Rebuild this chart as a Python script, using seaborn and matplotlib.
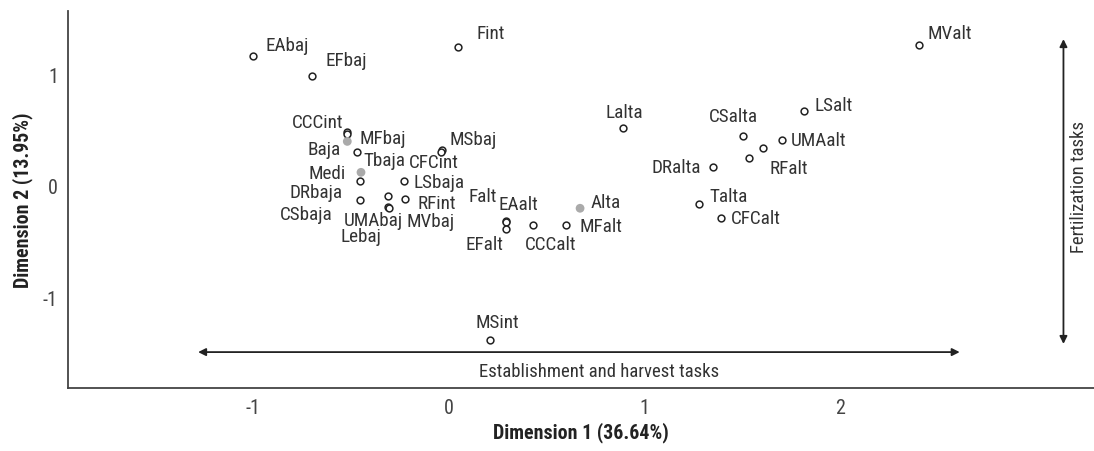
import pandas as pd
import seaborn as sns
import numpy as np
from matplotlib import pyplot as plt

sns.set_style("white")
plt.rcParams["font.family"] = ["Roboto Condensed", "Liberation Sans Narrow", "Roboto", "DejaVu Sans"]

# category points (active ones drawn as open circles)
names = ["EAbaj", "EFbaj", "Fint", "MValt", "CCCint", "MFbaj", "Tbaja", "MSbaj",
         "CFCint", "LSbaja", "DRbaja", "CSbaja", "MVbaj", "UMAbaj", "Lebaj", "RFint",
         "EAalt", "Falt", "EFalt", "CCCalt", "MFalt", "MSint",
         "Lalta", "CSalta", "LSalt", "UMAalt", "RFalt", "", "DRalta", "Talta", "CFCalt"]
dim1 = [-1.00, -0.70, 0.05, 2.40, -0.52, -0.517, -0.47, -0.034,
        -0.039, -0.228, -0.453, -0.453, -0.308, -0.308, -0.305, -0.225,
        0.293, 0.293, 0.293, 0.429, 0.599, 0.211,
        0.889, 1.503, 1.813, 1.704, 1.607, 1.532, 1.348, 1.280, 1.389]
dim2 = [1.164, 0.982, 1.242, 1.260, 0.478, 0.467, 0.299, 0.321,
        0.302, 0.039, 0.042, -0.125, -0.095, -0.193, -0.204, -0.119,
        -0.320, -0.329, -0.392, -0.352, -0.352, -1.386,
        0.516, 0.442, 0.666, 0.409, 0.335, 0.245, 0.170, -0.161, -0.286]

# supplementary levels (grey dots)
sup_names = ["Baja", "Medi", "Alta"]
sup_dim1 = [-0.518, -0.448, 0.671]
sup_dim2 = [0.397, 0.120, -0.202]

# where each label sits (data units), repelled away from its point
lab_pos = {
    "EAbaj": (-0.824, 1.260), "EFbaj": (-0.524, 1.128), "Fint": (0.214, 1.367),
    "MValt": (2.560, 1.367), "CCCint": (-0.668, 0.570), "MFbaj": (-0.336, 0.427),
    "Baja": (-0.637, 0.329), "Tbaja": (-0.330, 0.233), "MSbaj": (0.123, 0.418),
    "CFCint": (-0.075, 0.212), "Medi": (-0.623, 0.111), "LSbaja": (-0.050, 0.033),
    "DRbaja": (-0.679, -0.054), "RFint": (-0.061, -0.155), "CSbaja": (-0.730, -0.253),
    "UMAbaj": (-0.385, -0.307), "MVbaj": (-0.092, -0.313), "Lebaj": (-0.448, -0.453),
    "Falt": (0.174, -0.090), "EAalt": (0.355, -0.164), "EFalt": (0.185, -0.522),
    "CCCalt": (0.521, -0.522), "MFalt": (0.778, -0.358), "Alta": (0.803, -0.149),
    "Lalta": (0.897, 0.657), "CSalta": (1.454, 0.621), "LSalt": (1.968, 0.725),
    "UMAalt": (1.888, 0.409), "RFalt": (1.738, 0.158), "DRalta": (1.164, 0.165),
    "Talta": (1.432, -0.090), "CFCalt": (1.569, -0.292), "MSint": (0.247, -1.220),
}

df = pd.DataFrame({"name": names, "d1": dim1, "d2": dim2, "kind": "active"})
sup = pd.DataFrame({"name": sup_names, "d1": sup_dim1, "d2": sup_dim2, "kind": "sup"})

fig = plt.figure(figsize=(10.94, 4.52), dpi=100)
ax = fig.add_axes([0.0619, 0.1383, 0.9381, 0.8357])

sns.scatterplot(data=df, x="d1", y="d2", ax=ax, s=24, facecolor="white",
                edgecolor="#222222", linewidth=1.1, legend=False, zorder=3)
sns.scatterplot(data=sup, x="d1", y="d2", ax=ax, s=40, color="#aaaaaa",
                edgecolor="none", legend=False, zorder=4)

txt = "#333333"
for name, (lx, ly) in lab_pos.items():
    ax.text(lx, ly, name, ha="center", va="center", fontsize=13.8, color=txt)

# direction arrows
ax.annotate("", xy=(-1.28, -1.49), xytext=(2.61, -1.49),
            arrowprops=dict(arrowstyle="<|-|>", color="#222222", lw=1.3,
                            mutation_scale=11, shrinkA=0, shrinkB=0))
ax.annotate("", xy=(3.14, 1.313), xytext=(3.14, -1.417),
            arrowprops=dict(arrowstyle="<|-|>", color="#222222", lw=1.3,
                            mutation_scale=11, shrinkA=0, shrinkB=0))
ax.text(0.77, -1.655, "Establishment and harvest tasks", ha="center", va="center",
        fontsize=13.5, color=txt)
ax.text(3.22, 0.0, "Fertilization tasks", ha="center", va="center", rotation=90,
        fontsize=13.5, color=txt)

ax.set_xlim(-1.946, 3.296)
ax.set_ylim(-1.816, 1.567)
ax.set_xticks([-1, 0, 1, 2])
ax.set_yticks([-1, 0, 1])
ax.set_xticklabels(["-1", "0", "1", "2"])
ax.set_yticklabels(["-1", "0", "1"])
ax.tick_params(axis="both", direction="out", length=3, width=1, color="#777777",
               labelsize=14.5, labelcolor="#444444", pad=4)
sns.despine(ax=ax)
for side in ["left", "bottom"]:
    ax.spines[side].set_color("#444444")
    ax.spines[side].set_linewidth(1.3)

ax.set_xlabel("Dimension 1 (36.64%)", fontsize=14.3, fontweight="bold", color="#222222", labelpad=3)
ax.set_ylabel("Dimension 2 (13.95%)", fontsize=14.3, fontweight="bold", color="#222222", labelpad=7)

plt.savefig("out.png", dpi=100)
